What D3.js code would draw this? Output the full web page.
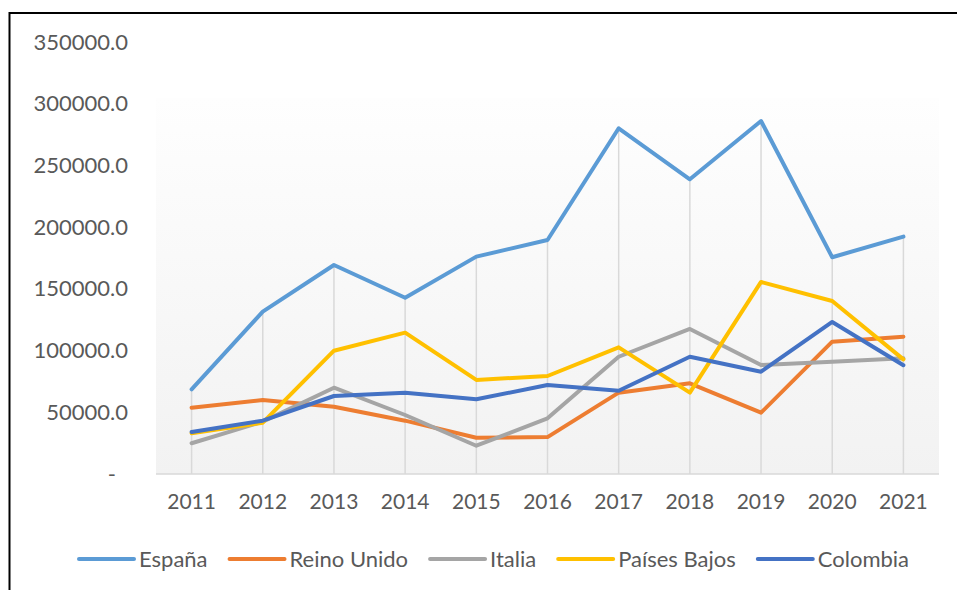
<!DOCTYPE html>
<html>
<head>
<meta charset="utf-8">
<script src="https://cdn.jsdelivr.net/npm/d3@7"></script>
<style>
  html, body { margin: 0; padding: 0; background: #fff; }
  svg { display: block; }
  text { font-family: Lato, "Open Sans", sans-serif; fill: #595959; }
</style>
</head>
<body>
<svg id="chart" width="957" height="590"></svg>
<script>
const years = ["2011","2012","2013","2014","2015","2016","2017","2018","2019","2020","2021"];
const seriesNames = ["España","Reino Unido","Italia","Países Bajos","Colombia"];
const espana      = [68600,131500,169300,142800,176100,189600,280100,238800,286000,175600,192300];
const reinoUnido  = [53700,60000,54500,43200,29400,29900,65900,73500,49700,107200,111200];
const italia      = [24900,42400,69900,47800,22900,45100,95000,117500,88300,91000,93700];
const paisesBajos = [33000,41600,99900,114500,76200,79400,102600,65900,155600,140200,92900];
const colombia    = [34000,43200,63200,65900,60500,72100,67500,95000,82900,123200,88100];
const yTicks = [0,50000,100000,150000,200000,250000,300000,350000];
const colors = ["#5b9bd5","#ed7d31","#a5a5a5","#ffc000","#4472c4"];

const seriesValues = [espana, reinoUnido, italia, paisesBajos, colombia];
const series = seriesNames.map((name, i) => ({name, values: seriesValues[i], color: colors[i]}));

const svg = d3.select("#chart");

// chart border (extends beyond the visible area on right/bottom)
svg.append("rect")
  .attr("x", 9.5).attr("y", 13).attr("width", 1000).attr("height", 1000)
  .attr("fill", "none").attr("stroke", "#000").attr("stroke-width", 2);

const plot = {left: 156, right: 939, top: 98, bottom: 474};

const x = d3.scaleBand().domain(years).range([plot.left, plot.right]).padding(0);
const cx = d => x(d) + x.bandwidth() / 2;
const y = d3.scaleLinear().domain([0, 350000]).range([plot.bottom, 42]);

// plot area gradient
const defs = svg.append("defs");
const grad = defs.append("linearGradient").attr("id", "bg").attr("x1", 0).attr("y1", 0).attr("x2", 0).attr("y2", 1);
grad.append("stop").attr("offset", "0%").attr("stop-color", "#fefefe");
grad.append("stop").attr("offset", "100%").attr("stop-color", "#f2f2f2");
svg.append("rect")
  .attr("x", plot.left).attr("y", plot.top)
  .attr("width", plot.right - plot.left).attr("height", plot.bottom - plot.top)
  .attr("fill", "url(#bg)");

// drop lines from max value to axis
const maxes = years.map((yr, i) => d3.max(series, s => s.values[i]));
svg.append("g").selectAll("line").data(years).join("line")
  .attr("x1", d => cx(d)).attr("x2", d => cx(d))
  .attr("y1", (d, i) => y(maxes[i])).attr("y2", plot.bottom)
  .attr("stroke", "#d9d9d9").attr("stroke-width", 1.5);

// x axis line
svg.append("line")
  .attr("x1", plot.left).attr("x2", plot.right)
  .attr("y1", plot.bottom).attr("y2", plot.bottom)
  .attr("stroke", "#d9d9d9").attr("stroke-width", 1.5);

// y axis
const yAxis = svg.append("g")
  .attr("transform", `translate(${plot.left},0)`)
  .call(d3.axisLeft(y).tickValues(yTicks).tickSize(0).tickPadding(28)
    .tickFormat(d => d === 0 ? "-" : d.toFixed(1)));
yAxis.select(".domain").remove();
yAxis.selectAll("text")
  .attr("font-family", "Lato, 'Open Sans', sans-serif")
  .attr("font-size", 22).attr("fill", "#595959");
yAxis.selectAll(".tick").filter(d => d === 0).select("text").attr("x", -40);

// x axis labels
const xAxis = svg.append("g")
  .attr("transform", `translate(0,${plot.bottom})`)
  .call(d3.axisBottom(x).tickSize(0).tickPadding(20));
xAxis.select(".domain").remove();
xAxis.selectAll("text")
  .attr("font-family", "Lato, 'Open Sans', sans-serif")
  .attr("font-size", 21).attr("fill", "#595959");

// lines
const line = d3.line().x((d, i) => cx(years[i])).y(d => y(d));
svg.append("g").selectAll("path").data(series).join("path")
  .attr("d", s => line(s.values))
  .attr("fill", "none")
  .attr("stroke", s => s.color)
  .attr("stroke-width", 4)
  .attr("stroke-linejoin", "round")
  .attr("stroke-linecap", "round");

// legend
const legend = svg.append("g").attr("transform", "translate(79,559)");
let lx = 0;
series.forEach(s => {
  const g = legend.append("g").attr("transform", `translate(${lx},0)`);
  g.append("line").attr("x1", 0).attr("x2", 55).attr("y1", 0).attr("y2", 0)
    .attr("stroke", s.color).attr("stroke-width", 4).attr("stroke-linecap", "round");
  const t = g.append("text").attr("x", 60).attr("y", 0).attr("dy", "0.35em")
    .attr("font-size", 22).text(s.name);
  lx += 60 + t.node().getComputedTextLength() + 22;
});
</script>
</body>
</html>
